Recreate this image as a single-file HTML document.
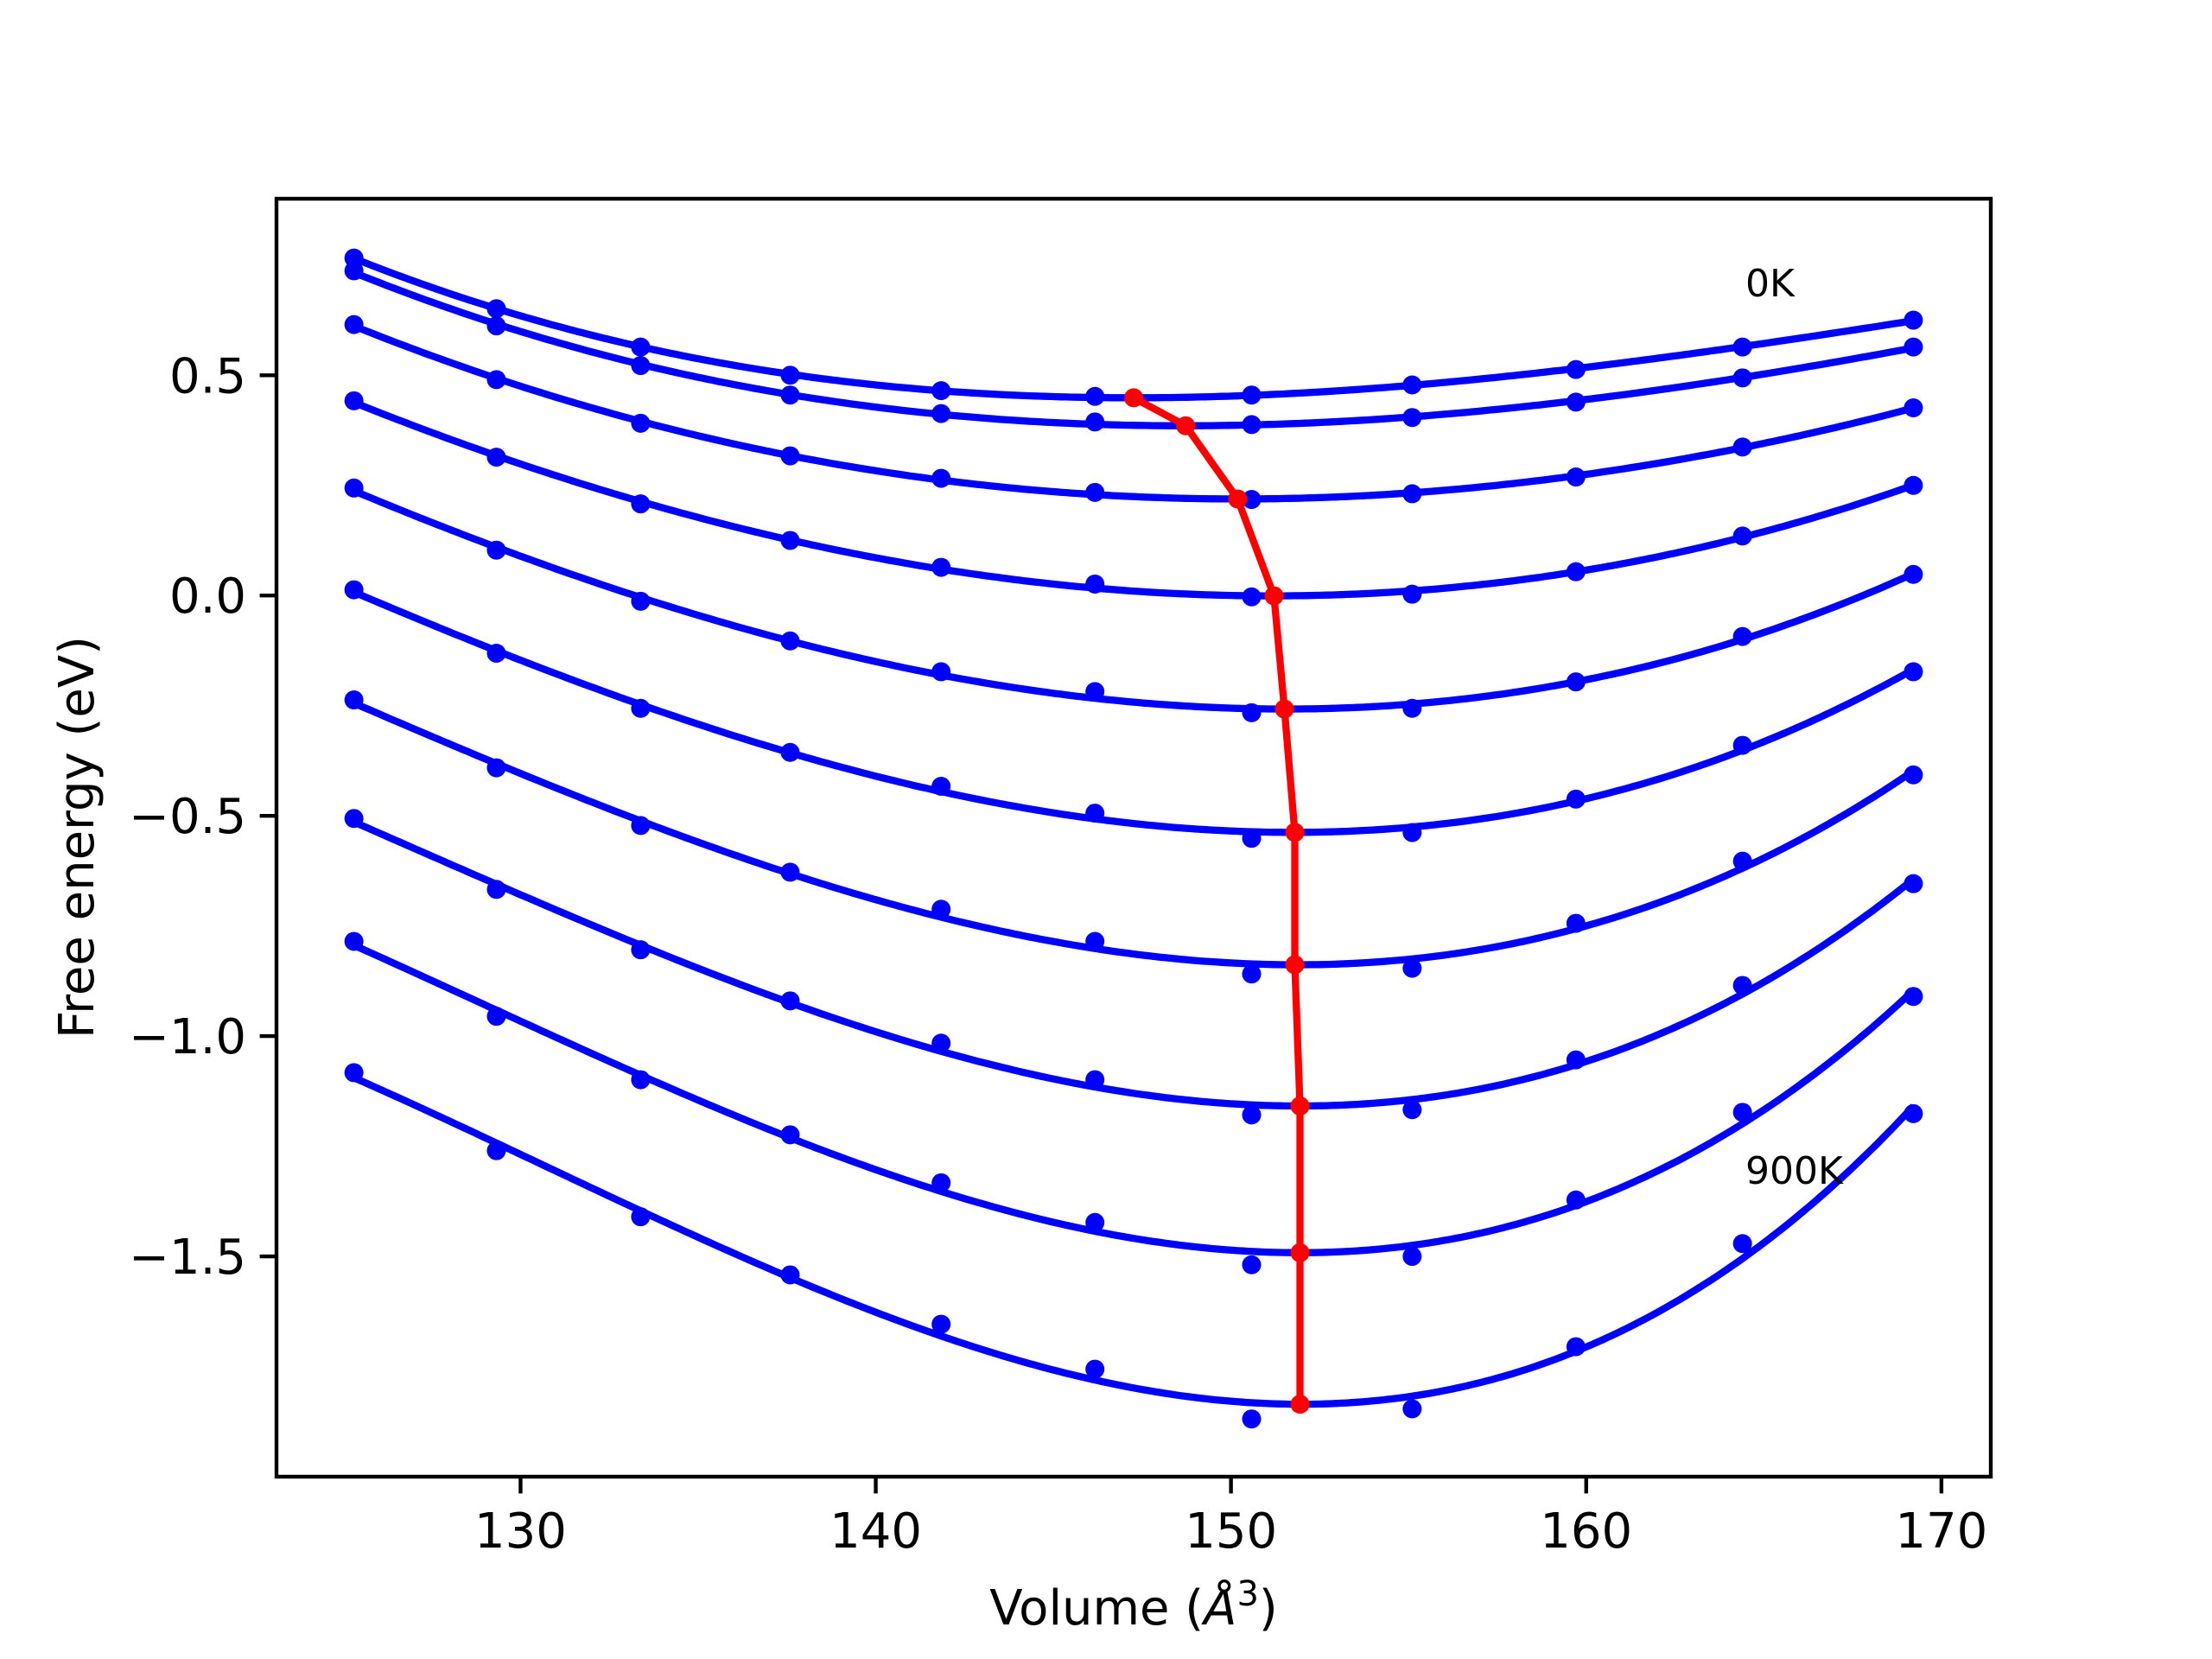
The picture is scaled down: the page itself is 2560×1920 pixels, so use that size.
<!DOCTYPE html>
<html><head><meta charset="utf-8"><style>
html,body{margin:0;padding:0;background:#fff;}
svg{display:block;font-family:"DejaVu Sans","Liberation Sans",sans-serif;}
</style></head><body>
<svg id="chart" width="2560" height="1920" viewBox="0 0 2560 1920" xmlns="http://www.w3.org/2000/svg">
<rect width="2560" height="1920" fill="#fff"/>
<g id="plot"></g>
<rect x="320" y="230" width="1984" height="1479" fill="none" stroke="#000" stroke-width="4.4"/>
<g id="ticks"></g>
<text x="2020" y="343" font-size="44">0K</text>
<text x="2020" y="1370" font-size="44">900K</text>
<text x="1312" y="1880" font-size="56" text-anchor="middle">Volume (<tspan font-style="italic">Å</tspan><tspan font-size="40" dy="-22">3</tspan><tspan dy="22">)</tspan></text>
<text transform="translate(108,969) rotate(-90)" font-size="56" text-anchor="middle">Free energy (eV)</text>
</svg>
<script>
const volumes = [125.31,129.32,133.38,137.59,141.84,146.17,150.58,155.10,159.71,164.40,169.21];
const energies0 = [0.766,0.651,0.564,0.500,0.465,0.452,0.455,0.478,0.513,0.564,0.625];
const energies1 = [0.737,0.612,0.522,0.455,0.413,0.394,0.388,0.404,0.439,0.494,0.564];
const energies2 = [0.615,0.490,0.391,0.317,0.266,0.234,0.218,0.231,0.269,0.337,0.426];
const energies3 = [0.442,0.314,0.208,0.125,0.064,0.026,-0.003,0.003,0.054,0.135,0.250];
const energies4 = [0.244,0.103,-0.013,-0.103,-0.173,-0.218,-0.266,-0.256,-0.196,-0.093,0.048];
const energies5 = [0.013,-0.131,-0.256,-0.356,-0.433,-0.494,-0.551,-0.538,-0.462,-0.340,-0.173];
const energies6 = [-0.237,-0.391,-0.522,-0.628,-0.712,-0.785,-0.859,-0.846,-0.744,-0.603,-0.407];
const energies7 = [-0.506,-0.667,-0.804,-0.920,-1.016,-1.099,-1.179,-1.167,-1.054,-0.885,-0.654];
const energies8 = [-0.785,-0.955,-1.099,-1.224,-1.333,-1.423,-1.519,-1.500,-1.372,-1.173,-0.910];
const energies9 = [-1.083,-1.260,-1.410,-1.542,-1.654,-1.756,-1.869,-1.846,-1.705,-1.471,-1.176];
const xTicks = [130,140,150,160,170];
const yTicks = [-1.5,-1.0,-0.5,0.0,0.5];
const yTickLabels = ["\u22121.5","\u22121.0","\u22120.5","0.0","0.5"];

const series = [energies0,energies1,energies2,energies3,energies4,energies5,energies6,energies7,energies8,energies9];
const X0=320,X1=2304,Y0=230,Y1=1709,XMIN=123.13,XMAX=171.39,YMIN=-2.0,YMAX=0.9006;
function xs(v){return X0+(v-XMIN)/(XMAX-XMIN)*(X1-X0);}
function ys(e){return Y0+(YMAX-e)/(YMAX-YMIN)*(Y1-Y0);}
const NS="http://www.w3.org/2000/svg";
const plot=document.getElementById('plot'), ticks=document.getElementById('ticks');
function mk(tag,attrs,parent){const el=document.createElementNS(NS,tag);for(const k in attrs)el.setAttribute(k,attrs[k]);parent.appendChild(el);return el;}

function cubicFit(xv,yv){
  const c=xv.reduce((a,b)=>a+b,0)/xv.length;
  const M=[[0,0,0,0],[0,0,0,0],[0,0,0,0],[0,0,0,0]],r=[0,0,0,0];
  for(let i=0;i<xv.length;i++){const t=xv[i]-c;const p=[1,t,t*t,t*t*t];
    for(let a=0;a<4;a++){r[a]+=p[a]*yv[i];for(let b=0;b<4;b++)M[a][b]+=p[a]*p[b];}}
  for(let i=0;i<4;i++){let m=i;for(let k=i+1;k<4;k++)if(Math.abs(M[k][i])>Math.abs(M[m][i]))m=k;
    [M[i],M[m]]=[M[m],M[i]];[r[i],r[m]]=[r[m],r[i]];
    for(let k=i+1;k<4;k++){const f=M[k][i]/M[i][i];for(let j=i;j<4;j++)M[k][j]-=f*M[i][j];r[k]-=f*r[i];}}
  const s=[0,0,0,0];for(let i=3;i>=0;i--){let v=r[i];for(let j=i+1;j<4;j++)v-=M[i][j]*s[j];s[i]=v/M[i][i];}
  return v=>{const t=v-c;return s[0]+s[1]*t+s[2]*t*t+s[3]*t*t*t;};
}

const minima=[];
series.forEach((en,si)=>{
  const f=cubicFit(volumes,en);
  const v0=volumes[0],v1=volumes[volumes.length-1];
  let d='',best=null;
  for(let i=0;i<=300;i++){const v=v0+(v1-v0)*i/300,e=f(v);
    d+=(i?'L':'M')+xs(v).toFixed(1)+' '+ys(e).toFixed(1);
    if(!best||e<best[1])best=[v,e];}
  const p=mk('path',{d:d,fill:'none',stroke:'#0000ff','stroke-width':8.3,'stroke-linejoin':'round'},plot);
  
  
  en.forEach((e,i)=>{
    const c=mk('circle',{cx:xs(volumes[i]),cy:ys(e),r:11,fill:'#0000ff'},plot);
    
    
  });
  minima.push(best);
});
const rd=minima.map((m,i)=>(i?'L':'M')+xs(m[0]).toFixed(1)+' '+ys(m[1]).toFixed(1)).join('');
const rl=mk('path',{d:rd,fill:'none',stroke:'#ff0000','stroke-width':8.3,'stroke-linejoin':'round'},plot);


minima.forEach(m=>{
  const c=mk('circle',{cx:xs(m[0]),cy:ys(m[1]),r:11,fill:'#ff0000'},plot);
  
  
});
xTicks.forEach(t=>{
  const l=mk('line',{x1:xs(t),x2:xs(t),y1:Y1,y2:Y1+19.4,stroke:'#000','stroke-width':4.4},ticks);
  
  
  const tx=mk('text',{x:xs(t),y:1791,'font-size':56,'text-anchor':'middle'},ticks);
  tx.textContent=String(t);
  
  
});
yTicks.forEach((t,i)=>{
  const l=mk('line',{x1:X0-19.4,x2:X0,y1:ys(t),y2:ys(t),stroke:'#000','stroke-width':4.4},ticks);
  
  
  const tx=mk('text',{x:X0-35,y:ys(t)+20,'font-size':56,'text-anchor':'end'},ticks);
  tx.textContent=yTickLabels[i];
  
  
});
</script>
</body></html>
